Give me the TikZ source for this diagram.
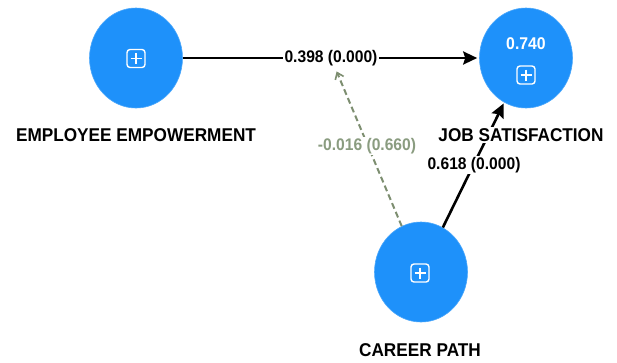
\documentclass[tikz,border=0pt]{standalone}
\usepackage{fontspec}
\setmainfont{Liberation Sans}
\newfontfamily\narrowsans[FakeStretch=0.93]{Liberation Sans}
\usetikzlibrary{shapes.geometric,arrows.meta}
\definecolor{nodeblue}{RGB}{30,145,250}
\definecolor{dashgray}{RGB}{125,142,112}
\definecolor{dashtext}{RGB}{138,156,128}
\tikzset{
  lv/.style={ellipse, fill=nodeblue, draw=nodeblue!80!white, line width=0.6pt, minimum width=93pt, minimum height=100pt, inner sep=0pt},
  icon/.style={draw=white, line width=1.4pt, rounded corners=3pt, minimum size=18pt, inner sep=0pt,
    path picture={\draw[white, line width=1.4pt]
      ([yshift=-3.5pt]path picture bounding box.north) -- ([yshift=3.5pt]path picture bounding box.south)
      ([xshift=3.5pt]path picture bounding box.west) -- ([xshift=-3.5pt]path picture bounding box.east);}},
  lvname/.style={font=\narrowsans\bfseries\fontsize{18.5}{20}\selectfont, fill=white, inner sep=1pt},
  coef/.style={font=\narrowsans\bfseries\fontsize{16.8}{18}\selectfont, fill=white, inner sep=1.5pt},
  rsq/.style={font=\narrowsans\bfseries\fontsize{17}{18}\selectfont, text=white, inner sep=0pt},
  sig/.style={draw=black, line width=2.6pt, -{Stealth[length=14pt,width=13pt,inset=2pt]}},
  nsig/.style={draw=dashgray, line width=2pt, dash pattern=on 6pt off 3.5pt, -{Straight Barb[length=6pt,width=9pt,line width=1.6pt]}}
}
\begin{document}
\begin{tikzpicture}[x=1pt,y=-1pt]
\useasboundingbox (0,0) rectangle (617,362);
% latent variables
\node[lv] (ee) at (136,58) {};
\node[lv] (js) at (526,58) {};
\node[lv] (cp) at (421,272) {};
\node[icon] (eei) at (136,58.5) {};
\node[icon] (jsi) at (526,75) {};
\node[icon] (cpi) at (420,273) {};
\node[rsq] (jsr) at (526,44) {0.740};
% paths
\draw[sig, shorten >=2pt] (ee) -- (js) node[coef, midway] (m) {0.398 (0.000)};
\draw[sig, shorten >=1pt] (cp) -- (js);
\draw[nsig, shorten >=3pt] (cp) -- (m);
% labels
\node[lvname] (eel) at (136,135) {EMPLOYEE EMPOWERMENT};
\node[lvname] (jsl) at (521,135) {JOB SATISFACTION};
\node[lvname] (cpl) at (420,350) {CAREER PATH};
\node[coef] (c2) at (474,165) {0.618 (0.000)};
\node[coef, text=dashtext] (c3) at (367,146) {-0.016 (0.660)};
\end{tikzpicture}
\end{document}
